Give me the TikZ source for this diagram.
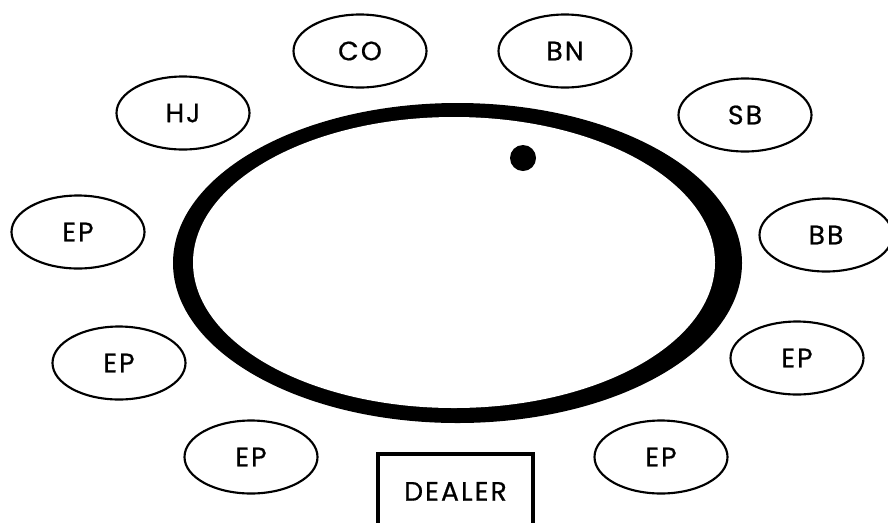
\documentclass[tikz,border=0pt]{standalone}
\usepackage{fontspec}
\setmainfont{Poppins}[LetterSpace=8, FakeBold=0.6]
\usetikzlibrary{shapes.geometric}

\begin{document}
\begin{tikzpicture}[x=0.75pt, y=-0.75pt,
    seat/.style={draw, ellipse, line width=1.6pt, inner sep=0pt,
        minimum width=99.75pt, minimum height=54.75pt,
        font=\fontsize{20}{22}\selectfont},
    dealerbox/.style={draw, rectangle, line width=3pt, inner sep=0pt,
        minimum width=116.25pt, anchor=north,
        text height=35pt, text depth=40pt,
        font=\fontsize{20}{22}\selectfont}]

    % =================================================================
    % 1. KHUNG HÌNH
    % =================================================================
    \clip (0,0) rectangle (888,522);

    % =================================================================
    % 2. BÀN CHƠI (VÀNH ĐEN VÀ NÚT DEALER)
    % =================================================================
    \fill[black] (457.5,263) ellipse [x radius=284.5, y radius=160];
    \fill[white] (454,262.5) ellipse [x radius=261, y radius=145.5];
    \fill[black] (523,158) circle [radius=13];

    % =================================================================
    % 3. CÁC VỊ TRÍ NGỒI
    % =================================================================
    \foreach \px/\py/\nm/\txt in {360/51/co/CO, 565/51/bn/BN,
        183/113/hj/HJ, 745/115/sb/SB, 78/232/epa/EP, 826/235/bb/BB,
        119/363/epb/EP, 797/358/epc/EP, 251/457/epd/EP, 661/457/epe/EP} {
        \node[seat] (\nm) at (\px,\py) {\txt};
    }

    % Hộp của người chia bài
    \node[dealerbox] (dealer) at (455.5,452) {DEALER};

\end{tikzpicture}
\end{document}
